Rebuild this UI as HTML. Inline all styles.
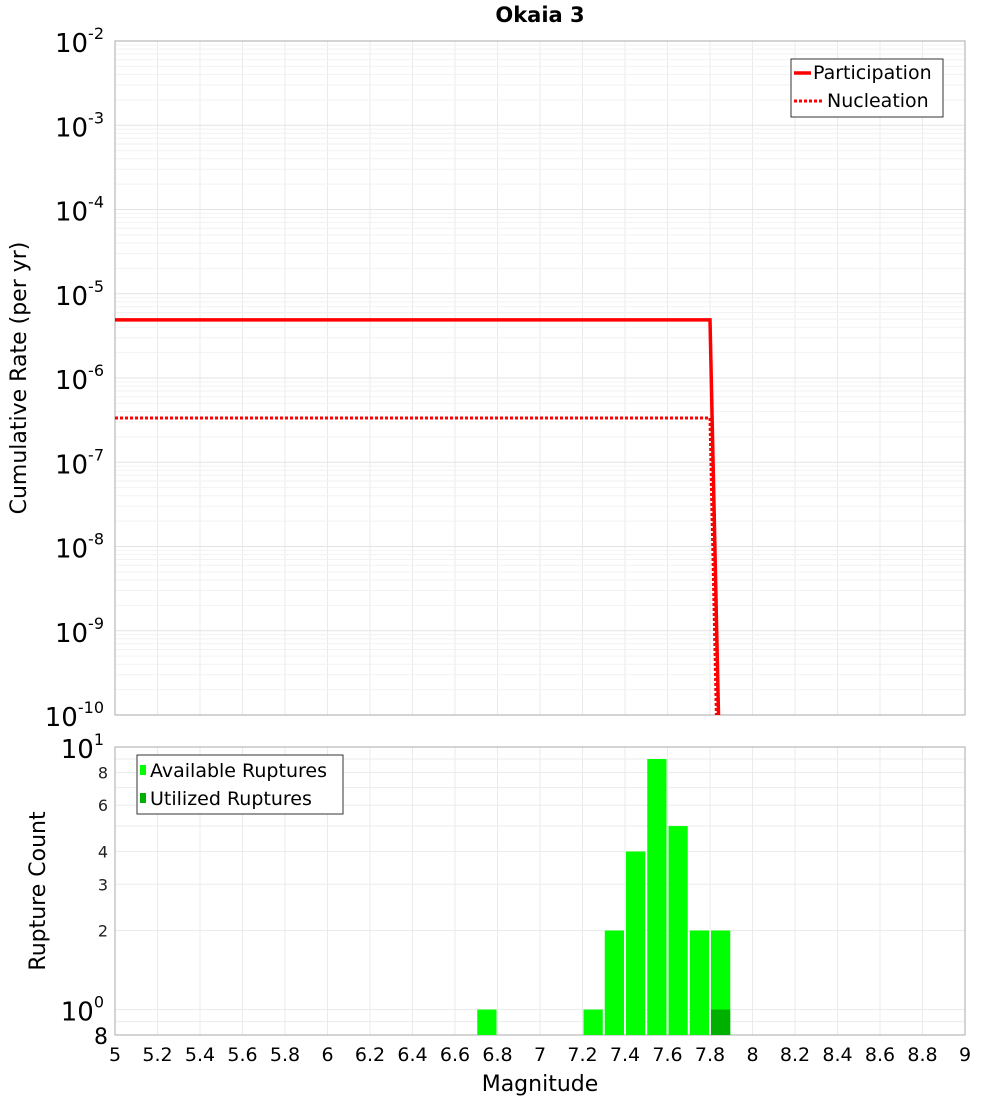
<!DOCTYPE html>
<html><head><meta charset="utf-8"><style>body{margin:0;background:#fff}svg{display:block;font-family:"DejaVu Sans","Liberation Sans",sans-serif}</style></head>
<body>
<svg id="c" width="1000" height="1100" xmlns="http://www.w3.org/2000/svg"></svg>
<script>
const partMags=[5,7.8,7.84];
const partRates=[4.9e-6,4.9e-6,1e-10];
const nuclMags=[5,7.8,7.83];
const nuclRates=[3.35e-7,3.35e-7,1e-10];
const barMags=[6.75,7.25,7.35,7.45,7.55,7.65,7.75,7.85];
const barAvail=[1,1,2,4,9,5,2,2];
const utilMags=[7.85];
const utilCounts=[1];
const xTicks=[5,5.2,5.4,5.6,5.8,6,6.2,6.4,6.6,6.8,7,7.2,7.4,7.6,7.8,8,8.2,8.4,8.6,8.8,9];
const topExps=[-10,-9,-8,-7,-6,-5,-4,-3,-2];
const botMinor=[2,3,4,6,8];

const NS="http://www.w3.org/2000/svg",svg=document.getElementById('c');
function el(t,a,p){const e=document.createElementNS(NS,t);for(const k in a)e.setAttribute(k,a[k]);(p||svg).appendChild(e);return e;}
const L=115,R=965,T1=41,B1=715,T2=747,B2=1035;
const x=m=>L+(m-5)/4*(R-L);
const y1=v=>B1-(Math.log10(v)+10)/8*(B1-T1);
const y2=v=>T2+(1-Math.log10(v))/(1-Math.log10(0.8))*(B2-T2);

const g=el('g',{});
xTicks.forEach(m=>{el('line',{x1:x(m),x2:x(m),y1:T1,y2:B1,stroke:'#ebebeb'},g);el('line',{x1:x(m),x2:x(m),y1:T2,y2:B2,stroke:'#ebebeb'},g);});
for(let e=-10;e<-2;e++)for(let k=1;k<10;k++){const yy=y1(k*Math.pow(10,e));el('line',{x1:L,x2:R,y1:yy,y2:yy,stroke:k==1?'#e4e4e4':'#f2f2f2'},g);}
[0.9,1,2,3,4,5,6,7,8,9].forEach(v=>{const yy=y2(v);el('line',{x1:L,x2:R,y1:yy,y2:yy,stroke:'#ebebeb'},g);});

let fr=el('rect',{x:L,y:T1,width:R-L,height:B1-T1,fill:'none',stroke:'#aaa'});
fr=el('rect',{x:L,y:T2,width:R-L,height:B2-T2,fill:'none',stroke:'#aaa'});

function pts(ms,vs){return ms.map((m,i)=>x(m)+','+Math.max(y1(vs[i]),T1)).join(' ');}
const lp=el('polyline',{points:pts(partMags,partRates),fill:'none',stroke:'#f00','stroke-width':3.5});

const ln=el('polyline',{points:pts(nuclMags,nuclRates),fill:'none',stroke:'#f00','stroke-width':3,'stroke-dasharray':'3,2'});


const bw=x(5.1)-x(5);
barMags.forEach((m,i)=>{const r=el('rect',{x:x(m)-bw/2+1,y:y2(barAvail[i]),width:bw-2,height:B2-y2(barAvail[i]),fill:'#00ff00'});
});
utilMags.forEach((m,i)=>{const r=el('rect',{x:x(m)-bw/2+1,y:y2(utilCounts[i]),width:bw-2,height:B2-y2(utilCounts[i]),fill:'#00b000'});
});

xTicks.forEach(m=>{const t=el('text',{x:x(m),y:1061,'font-size':19,'text-anchor':'middle'});t.textContent=String(m);
});
topExps.forEach(e=>{const yy=y1(Math.pow(10,e));const t=el('text',{x:104,y:yy+11,'font-size':26,'text-anchor':'end'});
t.innerHTML='10<tspan dy="-13" font-size="16">'+e+'</tspan>';});
[[10,'1'],[1,'0']].forEach(([v,e])=>{const t=el('text',{x:104,y:y2(v)+11,'font-size':26,'text-anchor':'end'});
t.innerHTML='10<tspan dy="-13" font-size="16">'+e+'</tspan>';});
botMinor.forEach(v=>{const t=el('text',{x:108,y:y2(v)+6,'font-size':16,'text-anchor':'end',fill:'#222'});t.textContent=v;
});
const t8=el('text',{x:108,y:1044,'font-size':22,'text-anchor':'end'});t8.textContent='8';

let t=el('text',{x:540,y:22,'font-size':21,'font-weight':'bold','text-anchor':'middle'});t.textContent='Okaia 3';
t=el('text',{x:540,y:1091,'font-size':22,'text-anchor':'middle'});t.textContent='Magnitude';
t=el('text',{x:0,y:0,'font-size':22,'text-anchor':'middle',transform:'translate(26,378) rotate(-90)'});t.textContent='Cumulative Rate (per yr)';
t=el('text',{x:0,y:0,'font-size':22,'text-anchor':'middle',transform:'translate(45,891) rotate(-90)'});t.textContent='Rupture Count';

let lg=el('g',{});
el('rect',{x:791,y:59,width:152,height:58,fill:'#fff',stroke:'#333'},lg);
el('line',{x1:794,x2:811,y1:73,y2:73,stroke:'#f00','stroke-width':3.5},lg);
el('line',{x1:794,x2:822,y1:101,y2:101,stroke:'#f00','stroke-width':3,'stroke-dasharray':'3,2'},lg);
t=el('text',{x:813,y:79,'font-size':19},lg);t.textContent='Participation';
t=el('text',{x:827,y:107,'font-size':19},lg);t.textContent='Nucleation';
lg=el('g',{});
el('rect',{x:137,y:755,width:206,height:59,fill:'#fff',stroke:'#333'},lg);
el('rect',{x:140,y:765,width:6,height:10,fill:'#00ff00'},lg);
el('rect',{x:140,y:793,width:6,height:10,fill:'#00b000'},lg);
t=el('text',{x:150,y:777,'font-size':19},lg);t.textContent='Available Ruptures';
t=el('text',{x:150,y:805,'font-size':19},lg);t.textContent='Utilized Ruptures';
</script>
</body></html>
